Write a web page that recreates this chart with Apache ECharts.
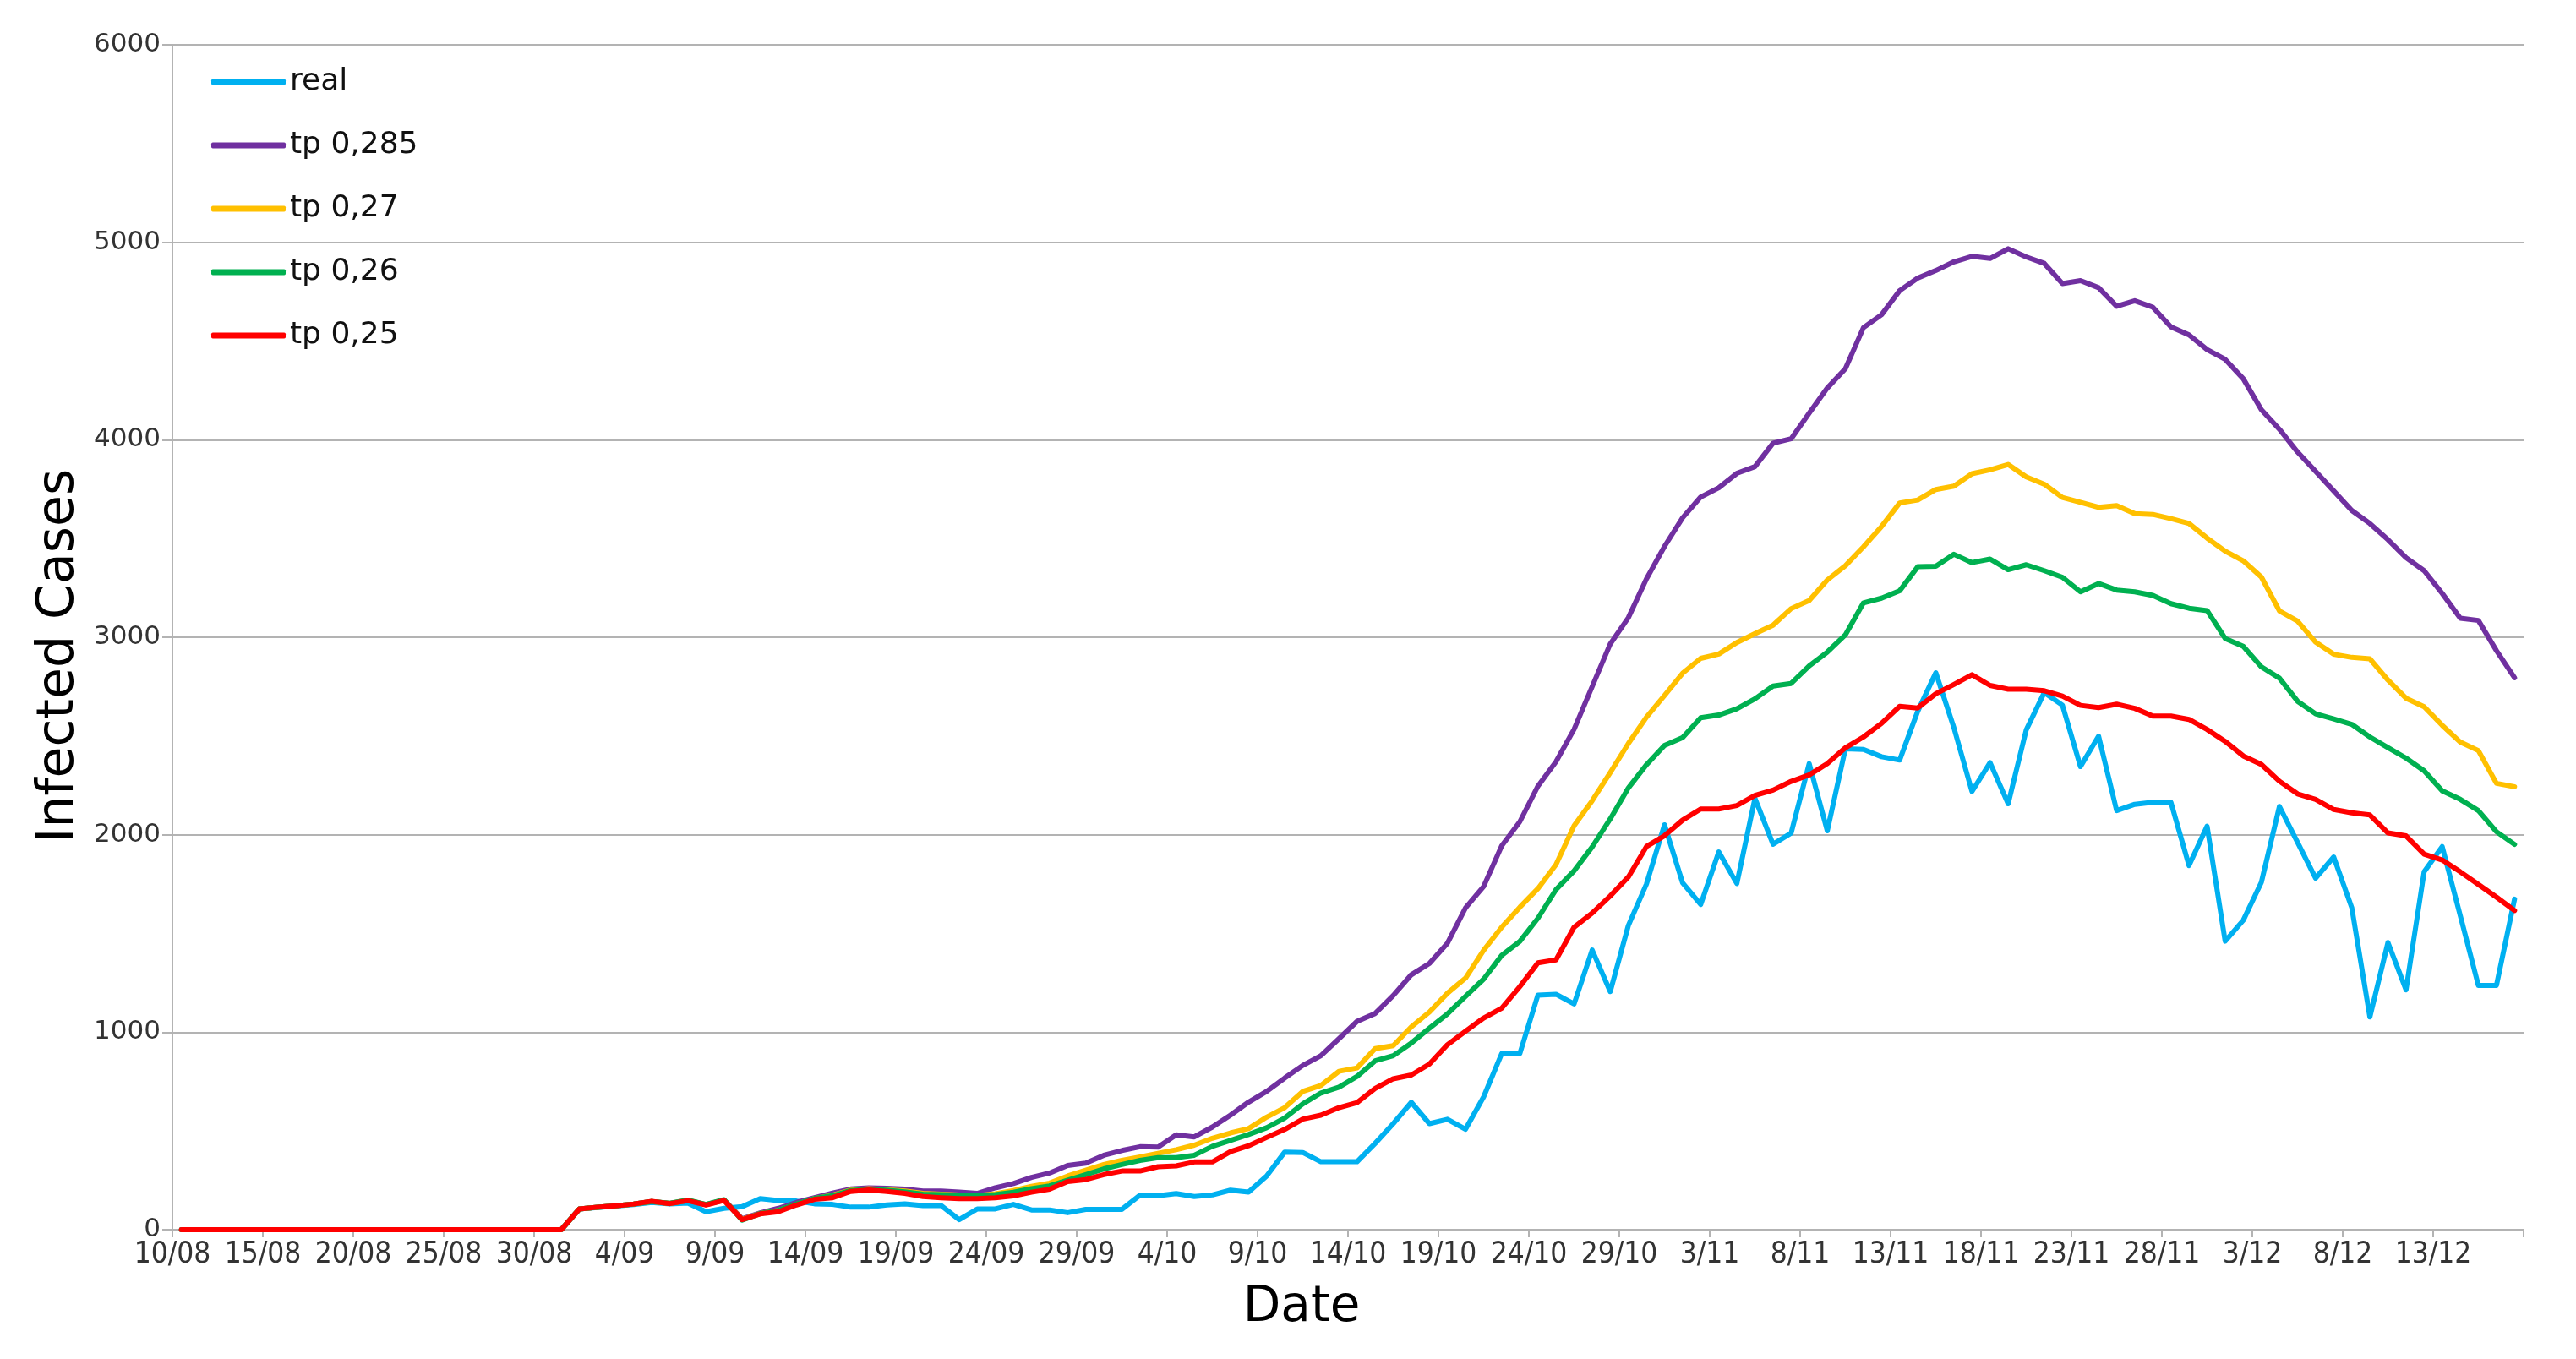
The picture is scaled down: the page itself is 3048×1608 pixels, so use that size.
<!DOCTYPE html>
<html>
<head>
<meta charset="utf-8">
<script src="https://cdn.jsdelivr.net/npm/echarts@6/dist/echarts.min.js"></script>
<style>
html,body{margin:0;padding:0;background:#fff;}
#chart{width:3048px;height:1608px;}
</style>
</head>
<body>
<div id="chart"></div>
<script>
// tick labels (slot boundaries on the date axis)
var tickLabels = [
"10/08","11/08","12/08","13/08","14/08","15/08","16/08","17/08","18/08","19/08","20/08","21/08","22/08","23/08","24/08","25/08","26/08","27/08","28/08","29/08","30/08","31/08",
"1/09","2/09","3/09","4/09","5/09","6/09","7/09","8/09","9/09","10/09","11/09","12/09","13/09","14/09","15/09","16/09","17/09","18/09","19/09","20/09","21/09","22/09","23/09","24/09","25/09","26/09","27/09","28/09","29/09","30/09",
"1/10","2/10","3/10","4/10","5/10","6/10","7/10","8/10","9/10","10/10","11/10","12/10","13/10","14/10","15/10","16/10","17/10","18/10","19/10","20/10","21/10","22/10","23/10","24/10","25/10","26/10","27/10","28/10","29/10","30/10","31/10",
"1/11","2/11","3/11","4/11","5/11","6/11","7/11","8/11","9/11","10/11","11/11","12/11","13/11","14/11","15/11","16/11","17/11","18/11","19/11","20/11","21/11","22/11","23/11","24/11","25/11","26/11","27/11","28/11","29/11","30/11",
"1/12","2/12","3/12","4/12","5/12","6/12","7/12","8/12","9/12","10/12","11/12","12/12","13/12","14/12","15/12","16/12","17/12","18/12"
];
// one category per daily data point (10/08 .. 17/12)
var categories = tickLabels.slice(0, 130);

var seriesNames = ["real", "tp 0,285", "tp 0,27", "tp 0,26", "tp 0,25"];

var real = [
0,0,0,0,0,0,0,0,0,0,0,0,0,0,0,0,0,0,0,0,0,0,
105,112,120,127,138,130,135,91,
108,117,157,148,145,131,128,114,114,125,
131,122,122,51,105,105,128,100,100,86,
103,103,103,175,172,183,168,176,200,190,
272,393,391,344,344,344,437,537,645,537,
559,509,673,892,892,1188,1192,1143,1416,1206,
1540,1750,2050,1756,1647,1913,1753,2184,1952,2008,
2360,2020,2435,2432,2395,2378,2625,2820,2542,2219,
2365,2157,2531,2720,2656,2345,2499,2122,2154,2164,
2164,1844,2043,1461,1567,1759,2143,1962,1780,1887,
1631,1077,1454,1215,1812,1940,1590,1237,1237,1674
];

var tp0285 = [
0,0,0,0,0,0,0,0,0,0,0,0,0,0,0,0,0,0,0,0,0,0,
105,113,121,130,142,133,148,127,
150,55,85,108,138,162,185,206,212,210,
205,196,196,190,184,212,234,265,287,325,
337,377,401,420,418,480,470,520,580,646,
700,768,832,881,967,1055,1095,1186,1291,1348,
1451,1630,1738,1944,2066,2246,2370,2534,2750,2966,
3099,3295,3460,3605,3710,3757,3830,3864,3983,4005,
4135,4262,4360,4568,4633,4755,4819,4857,4901,4929,
4918,4967,4926,4893,4791,4806,4770,4676,4704,4671,
4572,4531,4457,4407,4309,4152,4053,3938,3840,3741,
3642,3576,3494,3403,3337,3222,3096,3085,2932,2795
];

var tp027 = [
0,0,0,0,0,0,0,0,0,0,0,0,0,0,0,0,0,0,0,0,0,0,
105,113,121,130,142,133,149,127,
150,52,82,98,128,158,175,200,208,202,
196,184,180,175,172,182,198,220,236,272,
301,330,351,368,387,405,428,463,490,512,
570,618,700,730,802,819,917,932,1027,1102,
1198,1274,1415,1532,1633,1727,1849,2046,2172,2315,
2462,2595,2705,2818,2893,2915,2973,3018,3061,3145,
3186,3290,3362,3458,3561,3680,3695,3748,3765,3828,
3848,3875,3812,3775,3708,3683,3658,3667,3626,3622,
3601,3576,3502,3436,3387,3305,3133,3082,2975,2914,
2898,2891,2783,2691,2648,2554,2469,2426,2260,2243
];

var tp026 = [
0,0,0,0,0,0,0,0,0,0,0,0,0,0,0,0,0,0,0,0,0,0,
105,113,121,130,142,134,150,128,
152,48,82,98,130,158,172,198,205,200,
192,180,178,173,172,178,190,208,222,251,
279,308,330,351,365,365,377,422,452,482,
516,565,637,692,722,776,855,881,945,1020,
1093,1182,1269,1389,1460,1577,1722,1817,1938,2080,
2237,2354,2452,2492,2592,2606,2638,2688,2753,2766,
2855,2925,3012,3174,3198,3235,3357,3359,3420,3378,
3396,3342,3367,3337,3304,3230,3272,3239,3230,3212,
3170,3147,3135,2994,2954,2850,2793,2676,2612,2586,
2559,2495,2441,2388,2324,2222,2179,2122,2015,1951
];

var tp025 = [
0,0,0,0,0,0,0,0,0,0,0,0,0,0,0,0,0,0,0,0,0,0,
105,114,121,130,144,132,147,125,
148,51,80,91,125,154,162,194,201,194,
184,168,162,157,157,162,171,190,205,244,
254,279,297,297,319,323,343,343,395,425,
467,508,560,580,618,644,715,764,783,839,
937,1005,1072,1122,1231,1351,1366,1532,1603,1690,
1786,1940,1995,2074,2130,2130,2148,2199,2226,2270,
2303,2360,2440,2495,2564,2650,2642,2714,2761,2810,
2756,2737,2737,2729,2702,2655,2644,2661,2640,2601,
2601,2584,2533,2473,2399,2356,2271,2207,2179,2128,
2111,2100,2009,1994,1902,1872,1812,1748,1684,1616
];

var yTicks = [0, 1000, 2000, 3000, 4000, 5000, 6000];
var colors = ["#00B0F0", "#7030A0", "#FFC000", "#00B050", "#FF0000"];
var seriesData = [real, tp0285, tp027, tp026, tp025];

var chart = echarts.init(document.getElementById('chart'), null, {renderer: 'canvas'});

var series = seriesNames.map(function (n, k) {
  return {
    name: n,
    type: 'line',
    xAxisIndex: 1,
    yAxisIndex: 0,
    data: seriesData[k],
    symbol: 'none',
    showSymbol: false,
    smooth: false,
    animation: false,
    lineStyle: {color: colors[k], width: 6, cap: 'round', join: 'round'},
    itemStyle: {color: colors[k]}
  };
});

chart.setOption({
  animation: false,
  backgroundColor: '#ffffff',
  color: colors,
  grid: {left: 204, right: 62, top: 53, bottom: 153, containLabel: false},
  legend: {
    orient: 'vertical',
    left: 245,
    top: 71,
    icon: 'roundRect',
    itemWidth: 88,
    itemHeight: 7,
    itemGap: 33,
    data: seriesNames,
    textStyle: {fontFamily: 'DejaVu Sans', fontSize: 36, color: '#111', lineHeight: 42}
  },
  xAxis: [{
    type: 'category',
    data: tickLabels,
    boundaryGap: false,
    name: 'Date',
    nameLocation: 'middle',
    nameGap: 64,
    nameTextStyle: {fontFamily: 'DejaVu Sans', fontSize: 58, color: '#000', padding: [0, 110, 0, 0]},
    axisLine: {show: true, lineStyle: {color: '#b3b3b3', width: 2}},
    axisTick: {
      show: true, length: 9, lineStyle: {color: '#b3b3b3', width: 2},
      interval: function (idx) { return idx % 5 === 0; }
    },
    axisLabel: {
      fontFamily: 'DejaVu Sans Condensed, DejaVu Sans',
      fontSize: 35,
      color: '#333',
      margin: 12,
      interval: function (idx) { return idx % 5 === 0 && idx <= 125; }
    },
    splitLine: {show: false}
  }, {
    type: 'category',
    data: categories,
    boundaryGap: true,
    show: false,
    axisLine: {show: false},
    axisTick: {show: false},
    axisLabel: {show: false},
    splitLine: {show: false}
  }],
  yAxis: {
    type: 'value',
    min: 0,
    max: 6000,
    interval: 1000,
    name: 'Infected Cases',
    nameLocation: 'middle',
    nameGap: 96,
    nameTextStyle: {fontFamily: 'DejaVu Sans', fontSize: 60, color: '#000', padding: [0, 44, 0, 0]},
    axisLine: {show: true, lineStyle: {color: '#b3b3b3', width: 2}},
    axisTick: {show: true, length: 12, lineStyle: {color: '#b3b3b3', width: 2}},
    axisLabel: {
      fontFamily: 'DejaVu Sans',
      fontSize: 31,
      color: '#333',
      margin: 14,
      formatter: function (v) { return yTicks.indexOf(v) >= 0 ? String(v) : ''; }
    },
    splitLine: {show: true, lineStyle: {color: '#b3b3b3', width: 2}}
  },
  series: series
});
</script>
</body>
</html>
